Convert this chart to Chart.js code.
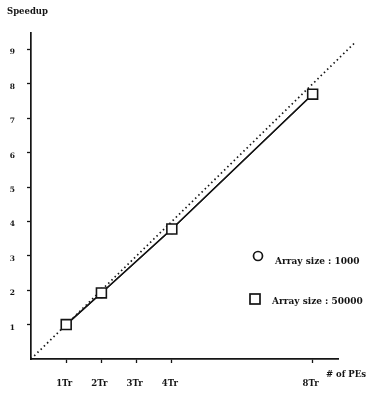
<!DOCTYPE html>
<html lang="en">
<head>
<meta charset="UTF-8">
<title>Speedup vs # of PEs</title>
<script src="https://cdn.jsdelivr.net/npm/chart.js"></script>
<style>
  html, body { margin: 0; padding: 0; background: #fff; }
</style>
</head>
<body>
<canvas id="Chart" width="370" height="395"></canvas>
<script>
// data
const peCounts = [1, 2, 4, 8];
const speedup1000 = [1, 1.92, 3.78, 7.70];
const speedup50000 = [1, 1.92, 3.78, 7.70];
const idealRange = [0, 9.2]; // dotted y = x line
const xTickValues = [1, 2, 3, 4, 8];
const xTickLabels = ['1Tr', '2Tr', '3Tr', '4Tr', '8Tr'];
const yTickValues = [1, 2, 3, 4, 5, 6, 7, 8, 9];
const legendLabels = ['Array size : 1000', 'Array size : 50000'];

const ink = '#151515';
const fontFam = '"DejaVu Serif", "Liberation Serif", serif';

// axis titles + legend drawn as plain text
const notes = {
  id: 'notes',
  afterDraw(chart) {
    const c = chart.ctx;
    c.save();
    c.fillStyle = ink;
    c.strokeStyle = ink;
    c.font = 'bold 8.5px ' + fontFam;
    c.textBaseline = 'middle';
    c.textAlign = 'left';
    c.fillText('Speedup', 7, 12);
    c.fillText('# of PEs', 326, 375);

    // legend
    c.lineWidth = 1.7;
    c.beginPath();
    c.arc(258, 256, 4.5, 0, Math.PI * 2);
    c.stroke();
    c.strokeRect(250, 294, 10, 10);
    c.font = 'bold 9px ' + fontFam;
    c.fillText(legendLabels[0], 275, 262);
    c.fillText(legendLabels[1], 272, 302);
    c.restore();
  }
};

const ctx = document.getElementById('Chart');
new Chart(ctx, {
  type: 'scatter',
  data: {
    datasets: [
      {
        label: 'ideal',
        data: idealRange.map(v => ({ x: v, y: v })),
        showLine: true,
        borderColor: ink,
        borderWidth: 1.7,
        borderDash: [1.5, 3],
        pointRadius: 0,
        clip: false,
        order: 3
      },
      {
        label: legendLabels[0],
        data: peCounts.map((x, i) => ({ x: x, y: speedup1000[i] })),
        showLine: true,
        borderColor: ink,
        borderWidth: 1.4,
        pointStyle: 'circle',
        pointRadius: 4.5,
        pointBackgroundColor: '#fff',
        pointBorderColor: ink,
        pointBorderWidth: 1.5,
        order: 2
      },
      {
        label: legendLabels[1],
        data: peCounts.map((x, i) => ({ x: x, y: speedup50000[i] })),
        showLine: true,
        borderColor: ink,
        borderWidth: 1.4,
        pointStyle: 'rect',
        pointRadius: 7,
        pointBackgroundColor: '#fff',
        pointBorderColor: ink,
        pointBorderWidth: 1.6,
        order: 1
      }
    ]
  },
  options: {
    responsive: false,
    animation: false,
    devicePixelRatio: 1,
    layout: { padding: { top: 33, right: 32, left: 0, bottom: 0 } },
    plugins: { legend: { display: false }, tooltip: { enabled: false } },
    scales: {
      x: {
        type: 'linear',
        min: 0,
        max: 8.72,
        afterFit(scale) { scale.height = 36; },
        afterBuildTicks(scale) { scale.ticks = xTickValues.map(v => ({ value: v })); },
        grid: { drawOnChartArea: false, tickLength: 4, color: ink, tickWidth: 1.3 },
        border: { color: ink, width: 1.7 },
        ticks: {
          color: ink,
          font: { family: fontFam, size: 8.5, weight: 'bold' },
          padding: 16,
          labelOffset: -2,
          maxRotation: 0,
          callback: v => xTickLabels[xTickValues.indexOf(v)]
        }
      },
      y: {
        type: 'linear',
        min: 0,
        max: 9.48,
        afterFit(scale) { scale.width = 31; },
        afterBuildTicks(scale) { scale.ticks = yTickValues.map(v => ({ value: v })); },
        grid: { drawOnChartArea: false, tickLength: 4, color: ink, tickWidth: 1.3 },
        border: { color: ink, width: 1.7 },
        ticks: {
          color: ink,
          font: { family: fontFam, size: 7.5, weight: 'bold' },
          padding: 12,
          labelOffset: 3,
          callback: v => String(v)
        }
      }
    }
  },
  plugins: [notes]
});
</script>
</body>
</html>
